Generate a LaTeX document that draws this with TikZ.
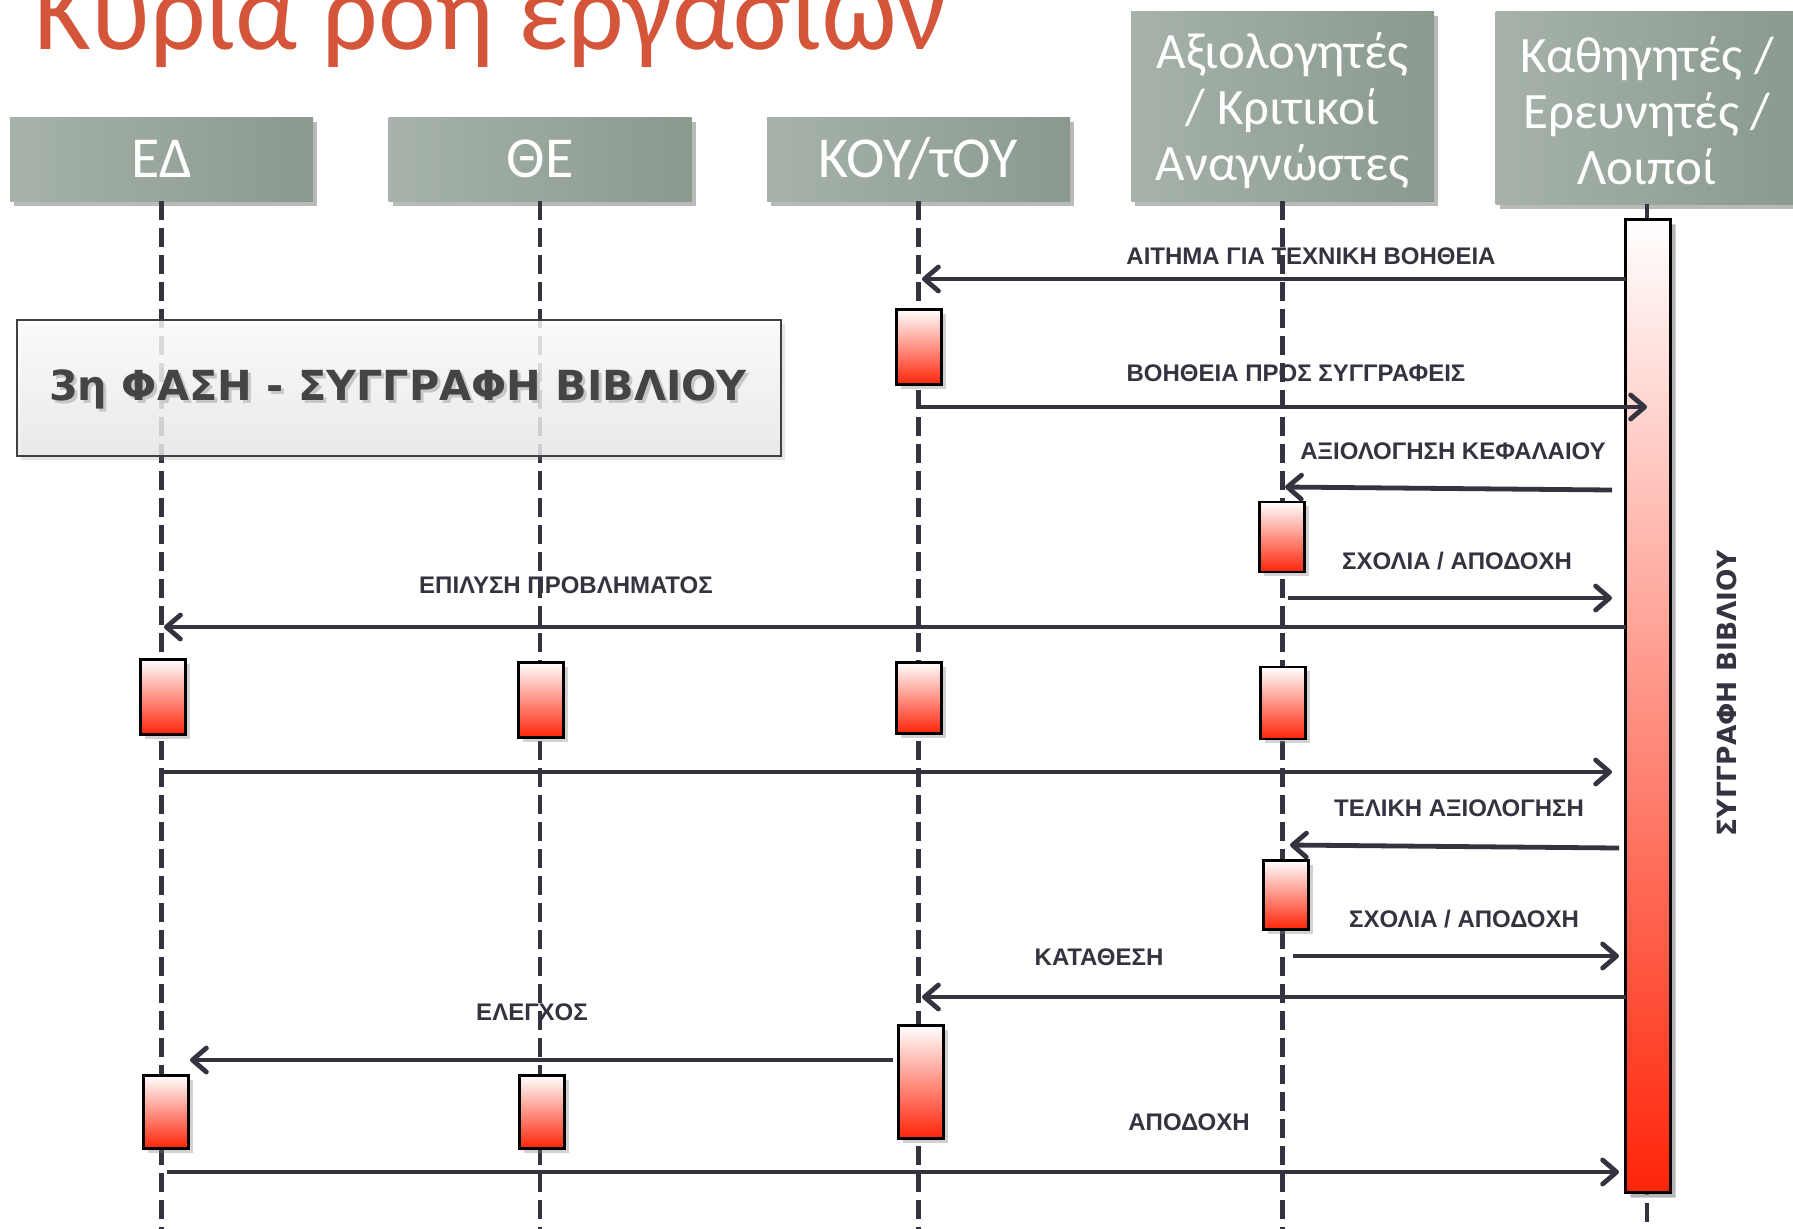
\documentclass[tikz,border=0pt]{standalone}
\usepackage{fontspec}
\usetikzlibrary{arrows.meta,shadows}
\newfontfamily\hdrfont{Carlito}
\newfontfamily\lblfont{Liberation Sans}
\newfontfamily\djfont{DejaVu Sans}
\definecolor{titlec}{RGB}{213,85,58}
\definecolor{hdrL}{RGB}{166,178,170}
\definecolor{hdrR}{RGB}{138,154,143}
\definecolor{llc}{RGB}{52,52,64}
\definecolor{actred}{RGB}{255,36,8}
\definecolor{phtxt}{RGB}{68,68,68}
\begin{document}
\begin{tikzpicture}[x=0.5pt,y=-0.5pt,
 hdr/.style={left color=hdrL, right color=hdrR, minimum width=151.5pt, inner sep=0pt, text=white, align=center,
   drop shadow={shadow xshift=2pt, shadow yshift=-2.5pt, opacity=0.55}},
 hdrone/.style={hdr, minimum height=42pt, font=\hdrfont\fontsize{29pt}{30pt}\selectfont},
 hdrtxt/.style={text=white, align=center, inner sep=0pt, font=\hdrfont\fontsize{25.5pt}{28pt}\selectfont},
 lifeline/.style={draw=llc, line width=2.3pt, dash pattern=on 9.5pt off 4pt},
 act/.style={draw=black, line width=1.3pt, top color=white, bottom color=actred, minimum width=22.5pt, inner sep=0pt,
   drop shadow={shadow xshift=2pt, shadow yshift=-2pt, opacity=0.35}},
 msg/.style={draw=llc, line width=2.4pt, -{Straight Barb[length=7pt,width=12pt,line width=2.4pt,round]}},
 lbl/.style={font=\lblfont\bfseries\fontsize{12pt}{14pt}\selectfont, text=llc, inner sep=0pt},
 phfont/.style={font=\djfont\bfseries\fontsize{20.7pt}{24pt}\selectfont, inner sep=0pt},
]
\useasboundingbox (0,0) rectangle (1793,1228);
\fill[white] (0,0) rectangle (1793,1228);

% title
\node[anchor=base west, inner sep=0pt, text=titlec, font=\hdrfont\fontsize{56pt}{60pt}\selectfont] (title) at (34,49) {\scalebox{0.975}[1]{Κυρία ροή εργασιών}};

% headers
\node[hdrone] (ed) at (161.5,159) {ΕΔ};
\node[hdrone] (the) at (540,159) {ΘΕ};
\node[hdrone] (koy) at (918.5,159) {ΚΟΥ/τΟΥ};
\node[hdr, minimum height=95pt] (ax) at (1282.5,106) {};
\node[hdrtxt] (axt) at (1282.5,111) {Αξιολογητές\\/ Κριτικοί\\Αναγνώστες};
\node[hdr, minimum height=96.5pt] (kath) at (1647,107.5) {};
\node[hdrtxt] (katht) at (1647,111) {Καθηγητές /\\Ερευνητές /\\Λοιποί};

% lifelines
\coordinate (bottom) at (0,1234);
\draw[lifeline] (ed.south) -- (ed.south |- bottom);
\draw[lifeline] (the.south) -- (the.south |- bottom);
\draw[lifeline] (koy.south) -- (koy.south |- bottom);
\draw[lifeline] (ax.south) -- (ax.south |- bottom);
\draw[lifeline] (kath.south) -- (kath.south |- bottom);

% message labels
\node[lbl] (l1) at (1311,256) {ΑΙΤΗΜΑ ΓΙΑ ΤΕΧΝΙΚΗ ΒΟΗΘΕΙΑ};
\node[lbl] (l2) at (1296,373) {ΒΟΗΘΕΙΑ ΠΡΟΣ ΣΥΓΓΡΑΦΕΙΣ};
\node[lbl] (l3) at (1453,451) {ΑΞΙΟΛΟΓΗΣΗ ΚΕΦΑΛΑΙΟΥ};
\node[lbl] (l4) at (1457,561) {ΣΧΟΛΙΑ / ΑΠΟΔΟΧΗ};
\node[lbl] (l5) at (566,585) {ΕΠΙΛΥΣΗ ΠΡΟΒΛΗΜΑΤΟΣ};
\node[lbl] (l7) at (1459,808) {ΤΕΛΙΚΗ ΑΞΙΟΛΟΓΗΣΗ};
\node[lbl] (l8) at (1464,919) {ΣΧΟΛΙΑ / ΑΠΟΔΟΧΗ};
\node[lbl] (l9) at (1099,957) {ΚΑΤΑΘΕΣΗ};
\node[lbl] (l10) at (532,1012) {ΕΛΕΓΧΟΣ};
\node[lbl] (l11) at (1189,1122) {ΑΠΟΔΟΧΗ};

% phase box
\node[draw=black!75, line width=1.3pt, top color=white, bottom color=black!8, fill opacity=0.82, draw opacity=1,
      minimum width=382pt, minimum height=68pt, inner sep=0pt,
      drop shadow={shadow xshift=2pt, shadow yshift=-2pt, opacity=0.2}] (phase) at (399,388) {};
\node[phfont, text=black!22] (phsh) at (401,392) {3η ΦΑΣΗ - ΣΥΓΓΡΑΦΗ ΒΙΒΛΙΟΥ};
\node[phfont, text=phtxt] (phtext) at (398,389) {3η ΦΑΣΗ - ΣΥΓΓΡΑΦΗ ΒΙΒΛΙΟΥ};

% activation boxes
\node[act, minimum height=37.5pt] (a1) at (919,347) {};
\node[act, minimum height=35pt] (a2) at (1282,537) {};
\node[act, minimum height=37.5pt] (a3) at (163,697) {};
\node[act, minimum height=37.5pt] (a4) at (541,700) {};
\node[act, minimum height=35.5pt] (a5) at (919,698) {};
\node[act, minimum height=36pt] (a6) at (1283,703) {};
\node[act, minimum height=34.5pt] (a7) at (1286,895) {};
\node[act, minimum height=56.5pt] (a8) at (921,1082) {};
\node[act, minimum height=36.5pt] (a9) at (166,1112) {};
\node[act, minimum height=36.5pt] (a10) at (542,1112) {};

% main bar
\node[act, minimum width=22.5pt, minimum height=486.5pt, drop shadow={shadow xshift=2.5pt, shadow yshift=-2.5pt, opacity=0.35}] (bar) at (1648,706) {};
\node[rotate=90, font=\djfont\bfseries\fontsize{13.2pt}{15pt}\selectfont, text=llc, inner sep=0pt] (vlbl) at (1727,693) {ΣΥΓΓΡΑΦΗ ΒΙΒΛΙΟΥ};

% message endpoints
\coordinate (m1s) at (1626,279);  \coordinate (m1e) at (922,279);
\coordinate (m2s) at (921,407);   \coordinate (m2e) at (1647,407);
\coordinate (m3s) at (1612,490);  \coordinate (m3e) at (1285,487);
\coordinate (m4s) at (1288,598);  \coordinate (m4e) at (1612,598);
\coordinate (m5s) at (1626,627);  \coordinate (m5e) at (164,627);
\coordinate (m6s) at (164,772);   \coordinate (m6e) at (1612,772);
\coordinate (m7s) at (1619,848);  \coordinate (m7e) at (1290,845);
\coordinate (m8s) at (1293,956);  \coordinate (m8e) at (1619,956);
\coordinate (m9s) at (1626,997);  \coordinate (m9e) at (922,997);
\coordinate (m10s) at (893,1060); \coordinate (m10e) at (190,1060);
\coordinate (m11s) at (167,1172); \coordinate (m11e) at (1619,1172);

\draw[msg] (m1s) -- (m1e);
\draw[msg] (m2s) -- (m2e);
\draw[msg] (m3s) -- (m3e);
\draw[msg] (m4s) -- (m4e);
\draw[msg] (m5s) -- (m5e);
\draw[msg] (m6s) -- (m6e);
\draw[msg] (m7s) -- (m7e);
\draw[msg] (m8s) -- (m8e);
\draw[msg] (m9s) -- (m9e);
\draw[msg] (m10s) -- (m10e);
\draw[msg] (m11s) -- (m11e);
\end{tikzpicture}
\end{document}
